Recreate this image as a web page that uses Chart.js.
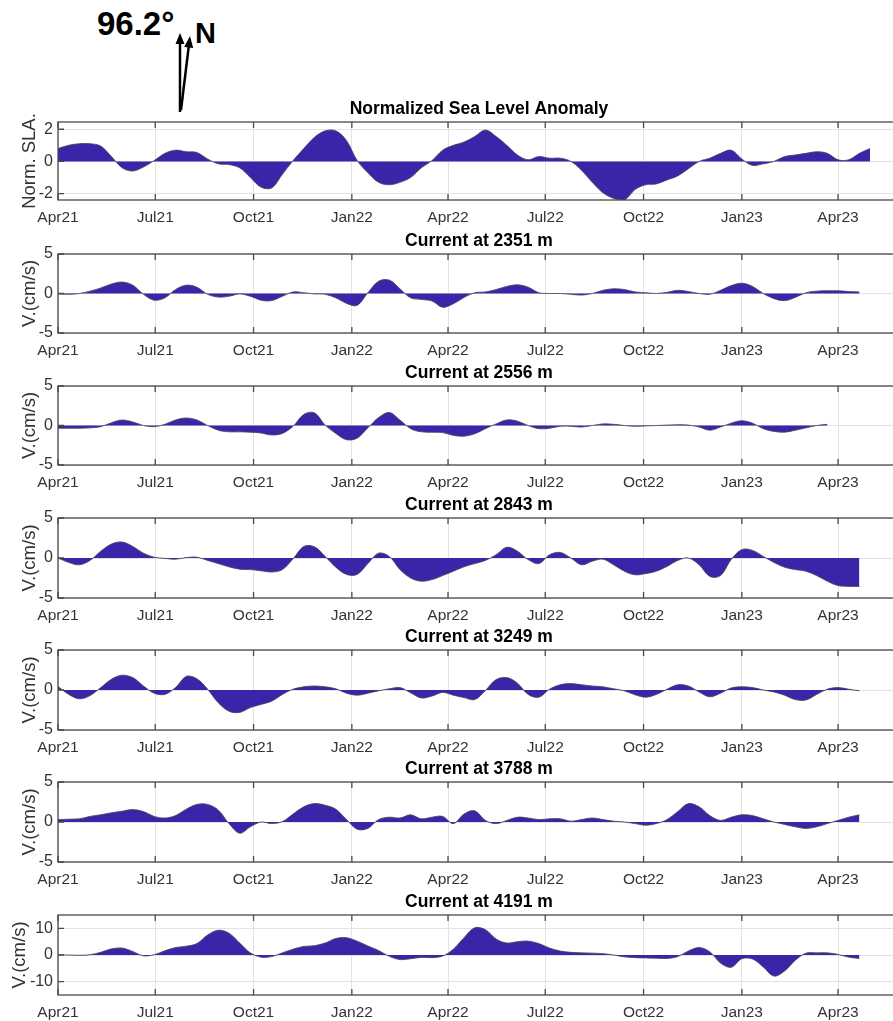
<!DOCTYPE html>
<html>
<head>
<meta charset="utf-8">
<script src="https://cdn.jsdelivr.net/npm/chart.js@4.4.1/dist/chart.umd.min.js"></script>
<style>
  body { margin: 0; background: #fff; width: 893px; height: 1021px; overflow: hidden; position: relative; }
  .panel { position: absolute; left: 0; }
  #compass { position: absolute; left: 0; top: 0; }
</style>
</head>
<body>
<svg id="compass" width="300" height="120">
  <text x="97" y="35" font-family="Liberation Sans, Arial, sans-serif" font-weight="bold" font-size="33">96.2°</text>
  <text x="195" y="43" font-family="Liberation Sans, Arial, sans-serif" font-weight="bold" font-size="29">N</text>
  <line x1="180" y1="112" x2="180" y2="42" stroke="#000" stroke-width="2.5"/>
  <polygon points="180,33 175.5,44 184.5,44" fill="#000"/>
  <line x1="181" y1="110" x2="188.8" y2="46" stroke="#000" stroke-width="2.5"/>
  <polygon points="190,36 184.2,47 193.2,48" fill="#000"/>
</svg>
<script>
// sample days since 1 Apr 2021
const days = [0,10,20,30,40,50,60,70,80,90,100,110,120,130,140,150,160,170,180,190,
  200,210,220,230,240,250,260,270,280,290,300,310,320,330,340,350,360,370,380,390,
  400,410,420,430,440,450,460,470,480,490,500,510,520,530,540,550,560,570,580,590,
  600,610,620,630,640,650,660,670,680,690,700,710,720,730,740,750,760];

const tickLabels = ['Apr21','Jul21','Oct21','Jan22','Apr22','Jul22','Oct22','Jan23','Apr23'];
const tickDays = [0, 91, 183, 275, 365, 456, 548, 640, 730];

const sla = [
  0.8,1.0,1.1,1.1,0.95,0.3,-0.4,-0.6,-0.35,0.05,
  0.5,0.7,0.6,0.55,0.15,-0.15,-0.2,-0.4,-1.0,-1.6,
  -1.65,-0.8,0.05,0.8,1.5,1.9,1.9,1.3,0.05,-0.7,
  -1.3,-1.45,-1.3,-1.0,-0.4,0.05,0.7,1.0,1.2,1.55,
  1.95,1.55,1.0,0.4,0.1,0.3,0.2,0.2,0.0,-0.55,
  -1.3,-1.95,-2.3,-2.4,-1.75,-1.45,-1.4,-1.15,-0.9,-0.45,
  0.0,0.2,0.5,0.7,0.15,-0.25,-0.15,0.0,0.3,0.4,
  0.5,0.6,0.5,0.1,0.1,0.5,0.8];

const v2351 = [
  -0.05,-0.1,0,0.3,0.7,1.2,1.45,1.05,-0.1,-0.85,
  -0.55,0.5,1.05,0.8,-0.1,-0.45,-0.35,-0.05,-0.35,-0.85,
  -0.9,-0.35,0.2,0.1,-0.05,-0.1,-0.55,-1.25,-1.5,0.1,
  1.55,1.7,0.6,-0.55,-0.75,-0.95,-1.75,-1.3,-0.5,0.1,
  0.2,0.5,0.9,1.1,0.8,0.1,0,0,-0.1,-0.2,
  0,0.4,0.6,0.5,0.2,0.1,0,0.15,0.4,0.25,
  0,-0.1,0.4,1.0,1.3,0.9,0,-0.65,-0.9,-0.5,
  0.1,0.3,0.35,0.35,0.25,0.2];

const v2556 = [
  -0.35,-0.35,-0.35,-0.3,-0.15,0.35,0.7,0.45,0,-0.15,
  0.15,0.7,0.95,0.7,0,-0.6,-0.8,-0.8,-0.85,-0.95,
  -1.2,-1.0,-0.1,1.4,1.6,0.05,-1.0,-1.8,-1.6,-0.3,
  1.0,1.65,0.7,-0.4,-0.8,-0.85,-0.9,-1.25,-1.35,-1.05,
  -0.4,0.2,0.7,0.55,0,-0.4,-0.35,-0.1,-0.1,-0.2,
  0,0.2,0.15,0,-0.1,-0.05,0,0.05,0.1,0.05,
  -0.2,-0.6,-0.2,0.3,0.6,0.3,-0.4,-0.75,-0.85,-0.6,
  -0.3,0,0.15];

const v2843 = [
  0,-0.55,-0.85,-0.3,0.85,1.75,2.0,1.45,0.6,0.1,
  -0.05,-0.15,0.05,0.1,-0.3,-0.7,-1.1,-1.4,-1.45,-1.6,
  -1.75,-1.45,-0.1,1.45,1.4,0.2,-1.15,-2.05,-2.05,-0.7,
  0.6,0.2,-1.45,-2.5,-2.9,-2.7,-2.2,-1.65,-1.1,-0.7,
  -0.3,0.4,1.35,0.85,-0.2,-0.7,0.4,0.7,0,-0.85,
  -0.4,-0.15,-0.85,-1.65,-2.1,-1.95,-1.65,-1.05,-0.3,0,
  -0.85,-2.3,-2.2,-0.2,1.05,0.95,0.2,-0.55,-1.15,-1.45,
  -1.65,-2.2,-2.9,-3.45,-3.55,-3.55];

const v3249 = [
  0.45,-0.55,-1.1,-0.7,0.3,1.35,1.85,1.55,0.5,-0.4,
  -0.55,0.3,1.7,1.4,0.1,-1.6,-2.65,-2.8,-2.2,-1.8,
  -1.4,-0.55,0.1,0.4,0.5,0.4,0.15,-0.4,-0.65,-0.4,
  -0.1,0.15,0.3,-0.35,-1.0,-0.75,-0.3,-0.65,-0.95,-1.2,
  -0.05,1.3,1.55,0.85,-0.55,-0.9,0.1,0.65,0.8,0.65,
  0.5,0.4,0.15,-0.1,-0.6,-0.9,-0.55,0.1,0.65,0.5,
  -0.25,-0.85,-0.4,0.25,0.4,0.3,0,-0.25,-0.65,-1.2,
  -1.25,-0.55,0.1,0.3,0.1,-0.1];

const v3788 = [
  0.3,0.35,0.4,0.7,0.9,1.15,1.35,1.55,1.3,0.7,
  0.5,0.8,1.6,2.2,2.2,1.5,-0.2,-1.4,-0.6,0,
  -0.2,0.05,1.0,1.9,2.3,2.1,1.6,0.3,-0.9,-0.8,
  0.3,0.6,0.5,0.9,0.4,0.6,0.7,-0.2,1.0,1.4,
  0.2,-0.2,0.2,0.6,0.5,0.3,0.4,0.4,0.1,0.3,
  0.5,0.3,0.1,0,-0.2,-0.4,-0.2,0.3,1.3,2.3,
  1.9,0.8,0.2,0.6,0.9,0.8,0.4,0,-0.3,-0.6,
  -0.8,-0.6,-0.2,0.2,0.6,0.9];

const v4191 = [
  0,0,-0.1,0.1,1.0,2.3,2.6,1.3,-0.3,0.1,
  1.6,2.8,3.3,4.3,7.5,9.3,8.2,4.5,0.8,-0.8,
  -0.6,0.8,2.2,3.2,3.5,4.5,6.2,6.5,5.2,3.4,
  1.7,-0.5,-1.7,-1.4,-0.9,-1.0,-0.4,2.2,6.5,10.2,
  9.5,6.0,4.5,5.0,5.2,4.3,2.6,1.5,1.0,0.8,
  0.7,0.5,0,-0.7,-1.0,-1.1,-1.2,-1.3,-0.6,1.5,
  2.8,1.2,-3.0,-4.6,-1.4,-1.5,-4.5,-7.9,-6.0,-2.0,
  0.7,0.8,0.8,0.2,-0.8,-1.3];

const panelTitles = ['Normalized Sea Level Anomaly','Current at 2351 m','Current at 2556 m',
  'Current at 2843 m','Current at 3249 m','Current at 3788 m','Current at 4191 m'];
const yTitles = ['Norm. SLA.','V.(cm/s)','V.(cm/s)','V.(cm/s)','V.(cm/s)','V.(cm/s)','V.(cm/s)'];
const yLimits = [[-2.4, 2.45],[-5,5],[-5,5],[-5,5],[-5,5],[-5,5],[-15,15]];
const yTicks = [[-2,0,2],[-5,0,5],[-5,0,5],[-5,0,5],[-5,0,5],[-5,0,5],[-10,0,10]];
const series = [sla, v2351, v2556, v2843, v3249, v3788, v4191];

const plotTops = [122, 254, 386, 518, 650, 782, 915];
const plotHeights = [78, 79, 79, 80, 80, 80, 80];
const FONT = 'Liberation Sans, Arial, Helvetica, sans-serif';
const FILL = '#3b24a8';

const frame = {
  id: 'frame',
  afterDraw(chart) {
    const {ctx, chartArea: a, scales: {x, y}} = chart;
    ctx.save();
    ctx.strokeStyle = '#4a4a4a';
    ctx.lineWidth = 1.3;
    ctx.strokeRect(a.left, a.top, a.right - a.left, a.bottom - a.top);
    ctx.beginPath();
    x.ticks.forEach(t => {
      const px = x.getPixelForValue(t.value);
      ctx.moveTo(px, a.bottom); ctx.lineTo(px, a.bottom - 6);
      ctx.moveTo(px, a.top); ctx.lineTo(px, a.top + 6);
    });
    y.ticks.forEach(t => {
      const py = y.getPixelForValue(t.value);
      ctx.moveTo(a.left, py); ctx.lineTo(a.left + 6, py);
    });
    ctx.stroke();
    ctx.restore();
  }
};

series.forEach((vals, i) => {
  const h = 28 + plotHeights[i] + 26;
  const div = document.createElement('div');
  div.className = 'panel';
  div.style.top = (plotTops[i] - 28) + 'px';
  const cv = document.createElement('canvas');
  cv.width = 902; cv.height = h;
  div.appendChild(cv);
  document.body.appendChild(div);

  new Chart(cv, {
    type: 'line',
    data: {
      datasets: [{
        data: vals.map((v, k) => ({x: days[k], y: v})),
        fill: 'origin',
        backgroundColor: FILL,
        borderColor: 'rgba(70,70,90,0.85)',
        borderWidth: 1,
        pointRadius: 0,
        tension: 0.35
      }]
    },
    options: {
      responsive: false,
      animation: false,
      events: [],
      layout: {padding: {left: 0, right: 2, top: 0, bottom: 0}},
      plugins: {
        legend: {display: false},
        tooltip: {enabled: false},
        title: {
          display: true, text: panelTitles[i], fullSize: false, color: '#000',
          font: {family: FONT, size: 17.5, weight: 'bold'},
          padding: {top: 4.5, bottom: 2.5}
        }
      },
      scales: {
        x: {
          type: 'linear', min: 0, max: 788,
          afterBuildTicks: s => { s.ticks = tickDays.map(v => ({value: v})); },
          afterFit: s => { s.height = 26; },
          ticks: {
            callback: (v, idx) => tickLabels[idx],
            autoSkip: false, maxRotation: 0, padding: 8,
            color: '#333', font: {family: FONT, size: 15.5}
          },
          grid: {color: '#e2e2e2', drawTicks: false},
          border: {display: false}
        },
        y: {
          min: yLimits[i][0], max: yLimits[i][1],
          afterBuildTicks: s => { s.ticks = yTicks[i].map(v => ({value: v})); },
          afterFit: s => { s.width = 58; },
          ticks: {padding: 5, color: '#333', font: {family: FONT, size: 16}},
          grid: {color: '#e2e2e2', drawTicks: false},
          border: {display: false},
          title: {
            display: true, text: yTitles[i], color: '#333',
            font: {family: FONT, size: 18.5},
            padding: {top: i === 6 ? 8.5 : 18.5, bottom: 0}
          }
        }
      }
    },
    plugins: [frame]
  });
});
</script>
</body>
</html>
